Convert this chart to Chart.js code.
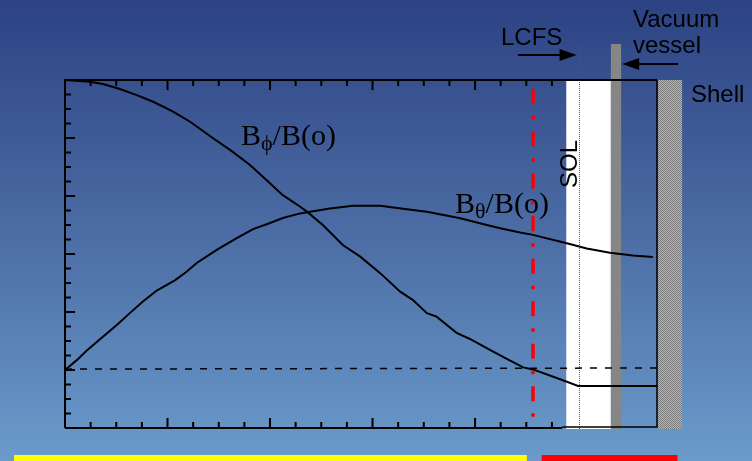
<!DOCTYPE html>
<html>
<head>
<meta charset="utf-8">
<style>
  html, body { margin: 0; padding: 0; background: #4a6aa3; }
  canvas { display: block; }
</style>
<script src="https://cdn.jsdelivr.net/npm/chart.js@4.4.0/dist/chart.umd.min.js"></script>
</head>
<body>
<canvas id="chartB" width="752" height="461"></canvas>
<script>
// Perfiles de campo normalizados vs r/a
const bThetaX = [0, 0.023, 0.042, 0.074, 0.101, 0.127, 0.152, 0.179, 0.215, 0.237, 0.257, 0.296, 0.335, 0.367, 0.400, 0.425, 0.459, 0.478, 0.517, 0.562, 0.615, 0.667, 0.706, 0.771, 0.823, 0.849, 0.888, 0.913, 0.979, 1.018, 1.063, 1.108, 1.147];
const bThetaY = [0, 0.034, 0.066, 0.115, 0.155, 0.197, 0.236, 0.274, 0.310, 0.339, 0.369, 0.414, 0.455, 0.486, 0.507, 0.524, 0.540, 0.546, 0.557, 0.566, 0.566, 0.554, 0.546, 0.523, 0.500, 0.489, 0.474, 0.466, 0.437, 0.419, 0.404, 0.395, 0.390];

const bPhiX = [0, 0.049, 0.074, 0.107, 0.140, 0.172, 0.211, 0.244, 0.289, 0.322, 0.361, 0.393, 0.425, 0.459, 0.472, 0.503, 0.542, 0.576, 0.615, 0.654, 0.679, 0.706, 0.725, 0.764, 0.790, 0.829, 0.862, 0.894, 0.913, 0.966, 1.001, 1.155];
const bPhiY = [1.0, 0.994, 0.986, 0.969, 0.948, 0.925, 0.891, 0.856, 0.799, 0.759, 0.707, 0.655, 0.603, 0.563, 0.546, 0.500, 0.431, 0.391, 0.334, 0.270, 0.241, 0.196, 0.184, 0.128, 0.107, 0.069, 0.038, 0.009, 0.002, -0.032, -0.055, -0.055];

const zeroX = [0, 1.155];
const zeroY = [0.003, 0.007];

// Regiones (en r/a)
const axisEnd = 0.97;
const redLine = 0.913;
const solStart = 0.978;
const lcfs = 1.002;
const vessel = [1.065, 1.085];
const boxEnd = 1.155;
const shell = [1.157, 1.204];
const coreBar = [-0.0995, 0.901];
const edgeBar = [0.930, 1.195];

// Ticks
const xMajor = [0, 0.2, 0.4, 0.6, 0.8];
const xMinor = [0.05, 0.1, 0.15, 0.25, 0.3, 0.35, 0.45, 0.5, 0.55, 0.65, 0.7, 0.75, 0.85, 0.9, 0.95];
const yMajor = [-0.2, 0, 0.2, 0.4, 0.6, 0.8, 1.0];
const yMinor = [];
for (let v = -0.15; v < 1.0; v += 0.05) {
  if (Math.abs(v * 5 - Math.round(v * 5)) > 0.01) yMinor.push(v);
}

const toPts = (xs, ys) => xs.map((v, i) => ({ x: v, y: ys[i] }));

function arrow(ctx, x1, y1, x2, y2) {
  const dir = Math.sign(x2 - x1);
  ctx.beginPath();
  ctx.moveTo(x1, y1);
  ctx.lineTo(x2 - dir * 14, y2);
  ctx.stroke();
  ctx.beginPath();
  ctx.moveTo(x2, y2);
  ctx.lineTo(x2 - dir * 17, y2 - 6);
  ctx.lineTo(x2 - dir * 17, y2 + 6);
  ctx.closePath();
  ctx.fill();
}

function labelB(ctx, x, y, sub) {
  ctx.font = '30px "Liberation Serif", "Times New Roman", serif';
  ctx.fillText('B', x, y);
  let w = ctx.measureText('B').width;
  ctx.font = '22px "Liberation Serif", "Times New Roman", serif';
  ctx.fillText(sub, x + w, y + 5);
  w += ctx.measureText(sub).width;
  ctx.font = '30px "Liberation Serif", "Times New Roman", serif';
  ctx.fillText('/B(o)', x + w, y);
}

const decor = {
  id: 'decor',
  beforeDraw(chart) {
    const { ctx, scales: { x, y } } = chart;
    const W = chart.width, H = chart.height;
    ctx.save();
    const g = ctx.createLinearGradient(0, 0, 0, H);
    g.addColorStop(0, '#2c4283');
    g.addColorStop(0.5, '#4b6ca4');
    g.addColorStop(1, '#6a9bcb');
    ctx.fillStyle = g;
    ctx.fillRect(0, 0, W, H);

    // barras inferiores
    ctx.fillStyle = '#ffff00';
    ctx.fillRect(x.getPixelForValue(coreBar[0]), H - 6, x.getPixelForValue(coreBar[1]) - x.getPixelForValue(coreBar[0]), 6);
    ctx.fillStyle = '#ff0000';
    ctx.fillRect(x.getPixelForValue(edgeBar[0]), H - 6, x.getPixelForValue(edgeBar[1]) - x.getPixelForValue(edgeBar[0]), 6);

    const top = y.getPixelForValue(1.0);
    const bot = y.getPixelForValue(-0.2) + 1;
    const topV = y.getPixelForValue(1.124);

    // SOL
    ctx.fillStyle = '#ffffff';
    ctx.fillRect(x.getPixelForValue(solStart), top, x.getPixelForValue(vessel[0]) - x.getPixelForValue(solStart), bot - top);

    // vacuum vessel
    ctx.fillStyle = '#868686';
    ctx.fillRect(x.getPixelForValue(vessel[0]), topV, x.getPixelForValue(vessel[1]) - x.getPixelForValue(vessel[0]), bot - topV);

    // shell (trama)
    const p = document.createElement('canvas');
    p.width = 2; p.height = 2;
    const pc = p.getContext('2d');
    pc.fillStyle = '#b4b4b4'; pc.fillRect(0, 0, 2, 2);
    pc.fillStyle = '#7c7c7c'; pc.fillRect(0, 0, 1, 1); pc.fillRect(1, 1, 1, 1);
    ctx.fillStyle = ctx.createPattern(p, 'repeat');
    ctx.fillRect(x.getPixelForValue(shell[0]), top, x.getPixelForValue(shell[1]) - x.getPixelForValue(shell[0]), bot - top);

    // LCFS
    const xl = Math.round(x.getPixelForValue(lcfs)) + 0.5;
    ctx.strokeStyle = '#555';
    ctx.lineWidth = 1;
    ctx.setLineDash([1, 1]);
    ctx.beginPath();
    ctx.moveTo(xl, topV);
    ctx.lineTo(xl, bot);
    ctx.stroke();
    ctx.setLineDash([]);
    ctx.restore();
  },
  afterDatasetsDraw(chart) {
    const { ctx, scales: { x, y } } = chart;
    const top = y.getPixelForValue(1.0);
    const bot = y.getPixelForValue(-0.2);
    const left = x.getPixelForValue(0);
    const right = x.getPixelForValue(boxEnd);
    ctx.save();
    ctx.strokeStyle = '#000';

    // marco
    ctx.lineWidth = 2;
    ctx.beginPath();
    ctx.moveTo(left, bot);
    ctx.lineTo(left, top);
    ctx.lineTo(right, top);
    ctx.moveTo(left, bot);
    ctx.lineTo(x.getPixelForValue(axisEnd), bot);
    ctx.stroke();
    ctx.lineWidth = 1.5;
    ctx.beginPath();
    ctx.moveTo(right, top);
    ctx.lineTo(right, bot - 1);
    ctx.lineTo(x.getPixelForValue(axisEnd), bot - 1);
    ctx.stroke();

    // ticks
    ctx.lineWidth = 2;
    ctx.beginPath();
    const tx = (v, len) => {
      const px = x.getPixelForValue(v);
      ctx.moveTo(px, bot); ctx.lineTo(px, bot - len);
      ctx.moveTo(px, top); ctx.lineTo(px, top + len);
    };
    xMajor.forEach(v => tx(v, 10));
    xMinor.forEach(v => tx(v, 6));
    const ty = (v, len) => {
      const py = y.getPixelForValue(v);
      ctx.moveTo(left, py); ctx.lineTo(left + len, py);
    };
    yMajor.forEach(v => ty(v, 10));
    yMinor.forEach(v => ty(v, 6));
    ctx.stroke();

    // linea roja
    const xr = x.getPixelForValue(redLine);
    ctx.strokeStyle = '#ff0000';
    ctx.lineWidth = 3.5;
    ctx.setLineDash([15, 12, 3.5, 12]);
    ctx.beginPath();
    ctx.moveTo(xr, y.getPixelForValue(0.97));
    ctx.lineTo(xr, bot);
    ctx.stroke();
    ctx.setLineDash([]);

    // textos
    ctx.fillStyle = '#000';
    ctx.textBaseline = 'alphabetic';
    labelB(ctx, 241, 145, '\u03d5');
    labelB(ctx, 455, 213, '\u03b8');

    ctx.font = '24px "Liberation Sans", Arial, sans-serif';
    ctx.fillText('LCFS', 501, 45);
    ctx.fillText('Vacuum', 633, 27);
    ctx.fillText('vessel', 633, 53);
    ctx.fillText('Shell', 691, 102);

    ctx.save();
    ctx.translate(577, 164);
    ctx.rotate(-Math.PI / 2);
    ctx.textAlign = 'center';
    ctx.fillText('SOL', 0, 0);
    ctx.restore();

    ctx.strokeStyle = '#000';
    ctx.lineWidth = 2;
    arrow(ctx, 518, 55, x.getPixelForValue(lcfs) - 2, 55);
    arrow(ctx, 678, 64, x.getPixelForValue(vessel[1]) + 1, 64);
    ctx.restore();
  }
};

new Chart(document.getElementById('chartB'), {
  type: 'line',
  data: {
    datasets: [
      { label: 'B_theta/B(o)', data: toPts(bThetaX, bThetaY), borderColor: '#000', borderWidth: 2, pointRadius: 0 },
      { label: 'B_phi/B(o)', data: toPts(bPhiX, bPhiY), borderColor: '#000', borderWidth: 2, pointRadius: 0 },
      { label: 'cero', data: toPts(zeroX, zeroY), borderColor: '#000', borderWidth: 1.5, borderDash: [7, 8], pointRadius: 0 }
    ]
  },
  options: {
    responsive: false,
    animation: false,
    devicePixelRatio: 1,
    layout: { padding: { left: 65, right: 95, top: 80, bottom: 33 } },
    plugins: { legend: { display: false }, tooltip: { enabled: false } },
    scales: {
      x: { type: 'linear', min: 0, max: boxEnd, display: false },
      y: { type: 'linear', min: -0.2, max: 1.0, display: false }
    }
  },
  plugins: [decor]
});
</script>
</body>
</html>
